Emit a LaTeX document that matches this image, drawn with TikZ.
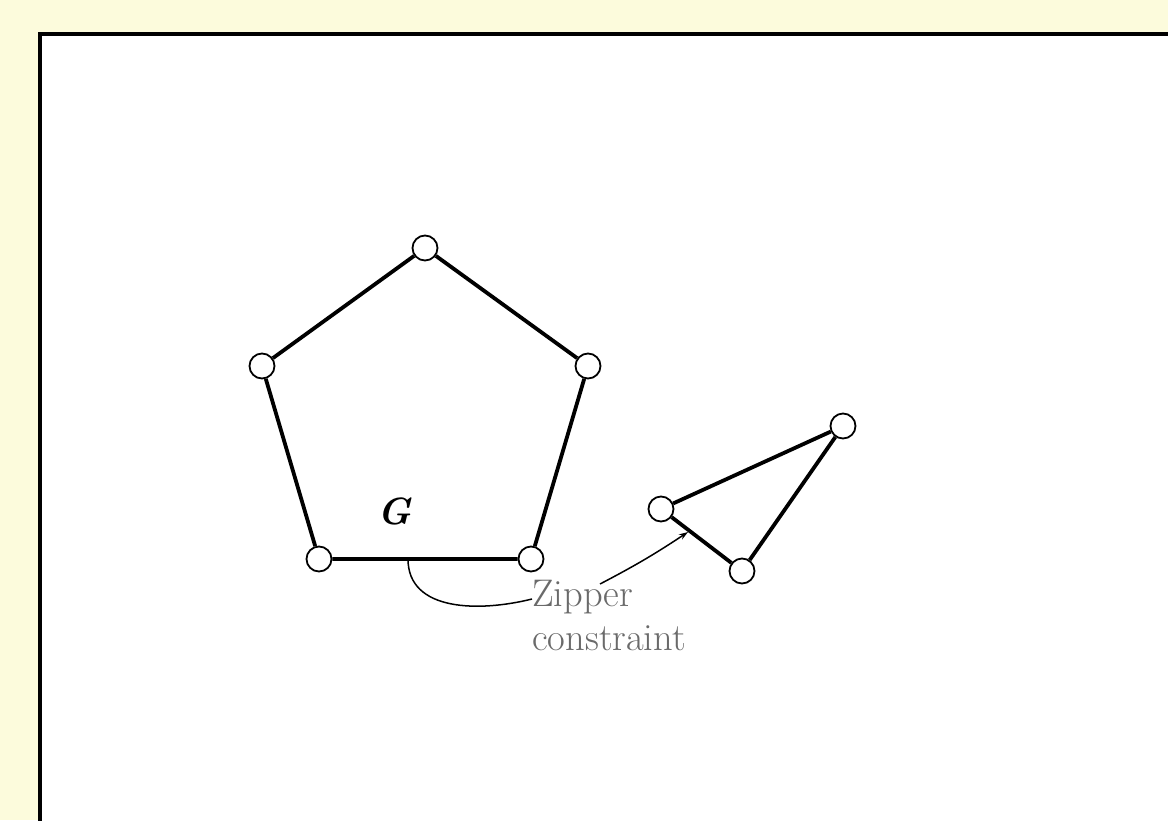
\documentclass[tikz,border=0pt]{standalone}
\usepackage{fontspec}
\usetikzlibrary{arrows.meta}
\definecolor{bgyellow}{HTML}{FCFBDC}
\definecolor{labelgray}{HTML}{6A6A6A}
\tikzset{
  vert/.style={circle,draw=black,fill=white,line width=1.8pt,minimum size=25pt,inner sep=0pt},
  edge/.style={line width=3.8pt},
  note/.style={line width=1.5pt},
}
\begin{document}
\begin{tikzpicture}[x=1pt,y=-1pt]
\useasboundingbox (0,0) rectangle (1168,820);
\fill[bgyellow] (0,0) rectangle (1168,820);
\clip (0,0) rectangle (1168,820);
\draw[line width=3.4pt,fill=white] (40,34) rectangle (1240,900);
% pentagon
\node[vert] (p1) at (425,248) {};
\node[vert] (p2) at (262,366) {};
\node[vert] (p3) at (588,366) {};
\node[vert] (p4) at (319,559) {};
\node[vert] (p5) at (531,559) {};
\draw[edge] (p1) -- (p3) -- (p5) -- (p4) -- (p2) -- (p1);
% triangle
\node[vert] (t1) at (661,509) {};
\node[vert] (t2) at (843,426) {};
\node[vert] (t3) at (742,571) {};
\draw[edge] (t1) -- (t2) -- (t3) -- (t1);
\node (G) at (395,511) {\fontsize{38}{44}\selectfont\textbf{\textit{G}}};
% zipper constraint
\node[anchor=north west,inner sep=0pt,align=left,text=labelgray,font=\fontsize{38.5}{44}\selectfont] (zc) at (532,580) {Zipper\\constraint};
\coordinate (za) at (408,559);
\coordinate (zb) at (688,532);
\draw[note] (za) .. controls (408,612) and (480,612) .. ([yshift=-19pt]zc.north west);
\draw[note,-{Stealth[length=9pt,width=6pt]}] ([xshift=68pt,yshift=-4pt]zc.north west) to[bend right=3] (zb);
\end{tikzpicture}
\end{document}
